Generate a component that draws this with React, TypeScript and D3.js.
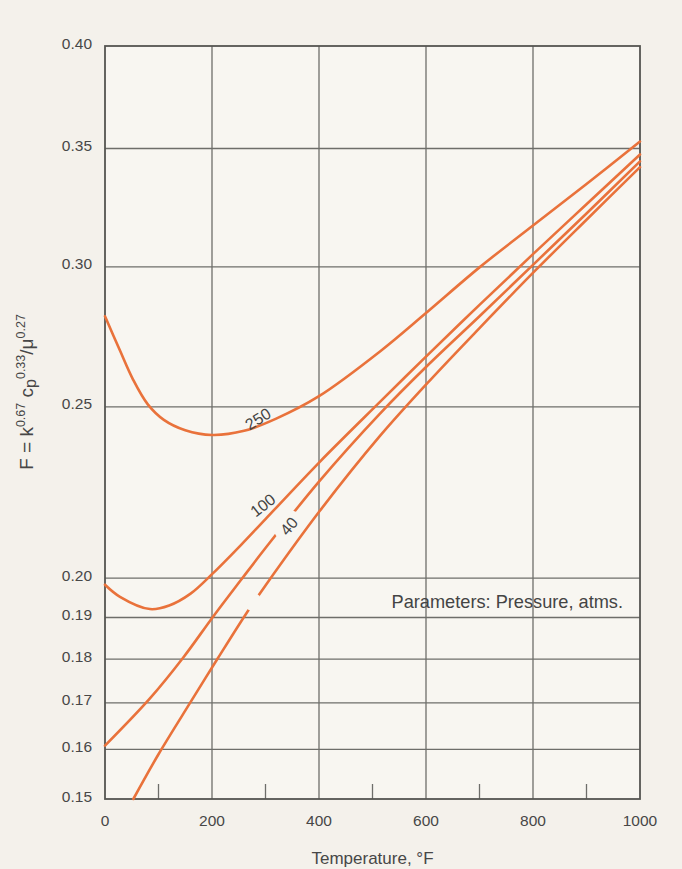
import { useEffect, useRef } from "react";
import * as d3 from "d3";

const W = 682;
const H = 869;

// Temperature (°F) and F
const temps250 = [0, 28, 52, 80, 110, 150, 200, 260, 320, 400, 514, 600, 700, 800, 900, 1000];
const f250 = [0.2813, 0.269, 0.2592, 0.2508, 0.2458, 0.2425, 0.241, 0.2423, 0.2462, 0.2535, 0.2687, 0.2825, 0.2998, 0.3166, 0.3342, 0.3532];

const temps100 = [0, 28, 84, 120, 160, 202, 254, 300, 402, 514, 600, 700, 800, 900, 1000];
const f100 = [0.1983, 0.1952, 0.1921, 0.193, 0.196, 0.2013, 0.2088, 0.216, 0.2328, 0.2516, 0.2669, 0.2855, 0.305, 0.3255, 0.3473];

const temps40 = [0, 84, 146, 202, 254, 300, 400, 514, 600, 700, 800, 900, 1000];
const f40 = [0.1608, 0.171, 0.1803, 0.1902, 0.1995, 0.208, 0.2268, 0.2478, 0.2633, 0.2813, 0.3008, 0.3216, 0.3442];

// lowest curve carries no label in the original
const tempsLow = [53, 100, 159, 210, 265, 300, 402, 514, 607, 700, 804, 900, 1000];
const fLow = [0.15, 0.159, 0.17, 0.18, 0.1912, 0.1981, 0.2184, 0.2407, 0.2587, 0.277, 0.2985, 0.319, 0.3416];

const yTicks = [0.4, 0.35, 0.3, 0.25, 0.2, 0.19, 0.18, 0.17, 0.16, 0.15];
const yGrid = [0.35, 0.3, 0.25, 0.2, 0.19, 0.18, 0.17, 0.16];
const xTicks = [0, 200, 400, 600, 800, 1000];
const xGrid = [200, 400, 600, 800];
const xMinor = [100, 300, 500, 700, 900];

// curve labels: [text, temp, F, angle]
const curveLabels: [string, number, number, number][] = [
  ["250", 286, 0.2461, -32],
  ["100", 295, 0.2199, -38],
  ["40", 344, 0.214, -50],
];

// breaks in the drawn lines: [series index, temp, F, radius px]
const lineGaps: [number, number, number, number][] = [
  [2, 344, 0.214, 16],
  [3, 276, 0.1939, 9],
];

export default function App() {
  const svgRef = useRef<SVGSVGElement | null>(null);

  useEffect(() => {
    const margin = { top: 46, right: 42, bottom: 70, left: 105 };
    const x = d3.scaleLinear().domain([0, 1000]).range([margin.left, W - margin.right]);
    const y = d3.scaleLog().domain([0.15, 0.4]).range([H - margin.bottom, margin.top]);

    const svg = d3.select(svgRef.current);
    svg.selectAll("*").remove();

    const font = "'Liberation Sans', Arial, Helvetica, sans-serif";
    const textColor = "#474747";
    const gridColor = "#6e6e6a";
    const orange = "#e9723b";

    svg.append("rect").attr("width", W).attr("height", H).attr("fill", "#f4f1eb");
    svg
      .append("rect")
      .attr("x", x(0))
      .attr("y", y(0.4))
      .attr("width", x(1000) - x(0))
      .attr("height", y(0.15) - y(0.4))
      .attr("fill", "#f8f6f1");

    const grid = svg.append("g").attr("stroke", gridColor).attr("stroke-width", 1.3);
    grid
      .selectAll("line.h")
      .data(yGrid)
      .join("line")
      .attr("class", "h")
      .attr("x1", x(0))
      .attr("x2", x(1000))
      .attr("y1", (d) => y(d))
      .attr("y2", (d) => y(d));
    grid
      .selectAll("line.v")
      .data(xGrid)
      .join("line")
      .attr("class", "v")
      .attr("x1", (d) => x(d))
      .attr("x2", (d) => x(d))
      .attr("y1", y(0.4))
      .attr("y2", y(0.15));
    grid
      .selectAll("line.m")
      .data(xMinor)
      .join("line")
      .attr("class", "m")
      .attr("x1", (d) => x(d))
      .attr("x2", (d) => x(d))
      .attr("y1", y(0.15))
      .attr("y2", y(0.15) - 15);

    svg
      .append("rect")
      .attr("x", x(0))
      .attr("y", y(0.4))
      .attr("width", x(1000) - x(0))
      .attr("height", y(0.15) - y(0.4))
      .attr("fill", "none")
      .attr("stroke", "#555551")
      .attr("stroke-width", 1.8);

    // masks that open the breaks in the curves
    const defs = svg.append("defs");
    const series = [
      { t: temps250, f: f250 },
      { t: temps100, f: f100 },
      { t: temps40, f: f40 },
      { t: tempsLow, f: fLow },
    ];
    series.forEach((_, i) => {
      const m = defs.append("mask").attr("id", `gap${i}`).attr("maskUnits", "userSpaceOnUse");
      m.append("rect").attr("width", W).attr("height", H).attr("fill", "white");
      lineGaps
        .filter((g) => g[0] === i)
        .forEach((g) => {
          m.append("circle").attr("cx", x(g[1])).attr("cy", y(g[2])).attr("r", g[3]).attr("fill", "black");
        });
    });

    const line = d3
      .line<[number, number]>()
      .x((d) => x(d[0]))
      .y((d) => y(d[1]))
      .curve(d3.curveCatmullRom.alpha(0.5));

    series.forEach((s, i) => {
      const pts = s.t.map((t, j) => [t, s.f[j]] as [number, number]);
      svg
        .append("path")
        .attr("d", line(pts))
        .attr("fill", "none")
        .attr("stroke", orange)
        .attr("stroke-width", 2.6)
        .attr("stroke-linecap", "round")
        .attr("mask", `url(#gap${i})`);
    });

    svg
      .selectAll("text.cl")
      .data(curveLabels)
      .join("text")
      .attr("class", "cl")
      .attr("transform", (d) => `translate(${x(d[1])},${y(d[2])}) rotate(${d[3]})`)
      .attr("text-anchor", "middle")
      .attr("dominant-baseline", "central")
      .attr("font-family", font)
      .attr("font-size", 16)
      .attr("fill", "#444")
      .text((d) => d[0]);

    // tick labels
    svg
      .selectAll("text.yt")
      .data(yTicks)
      .join("text")
      .attr("class", "yt")
      .attr("x", 92)
      .attr("y", (d) => y(d) - 3)
      .attr("text-anchor", "end")
      .attr("dominant-baseline", "central")
      .attr("font-family", font)
      .attr("font-size", 15.5)
      .attr("fill", textColor)
      .text((d) => d3.format(".2f")(d));

    svg
      .selectAll("text.xt")
      .data(xTicks)
      .join("text")
      .attr("class", "xt")
      .attr("x", (d) => x(d))
      .attr("y", y(0.15) + 27)
      .attr("text-anchor", "middle")
      .attr("font-family", font)
      .attr("font-size", 15.5)
      .attr("fill", textColor)
      .text((d) => String(d));

    svg
      .append("text")
      .attr("x", (x(0) + x(1000)) / 2)
      .attr("y", 864)
      .attr("text-anchor", "middle")
      .attr("font-family", font)
      .attr("font-size", 17)
      .attr("fill", textColor)
      .text("Temperature, °F");

    svg
      .append("text")
      .attr("x", 623)
      .attr("y", 608)
      .attr("text-anchor", "end")
      .attr("font-family", font)
      .attr("font-size", 18.2)
      .attr("fill", "#444")
      .text("Parameters: Pressure, atms.");

    // y axis title with exponents
    const yt = svg
      .append("text")
      .attr("transform", "translate(33,392) rotate(-90)")
      .attr("text-anchor", "middle")
      .attr("font-family", font)
      .attr("font-size", 19)
      .attr("fill", textColor);
    yt.append("tspan").text("F = k");
    yt.append("tspan").attr("font-size", 12.5).attr("dy", -8).text("0.67");
    yt.append("tspan").attr("dy", 8).text(" c");
    yt.append("tspan").attr("font-size", 16).attr("dy", 3).text("p");
    yt.append("tspan").attr("font-size", 12.5).attr("dy", -11).text("0.33");
    yt.append("tspan").attr("dy", 8).text("/μ");
    yt.append("tspan").attr("font-size", 12.5).attr("dy", -8).text("0.27");
  }, []);

  return (
    <svg
      ref={svgRef}
      width={W}
      height={H}
      style={{ position: "absolute", left: 0, top: 0, display: "block" }}
    />
  );
}
